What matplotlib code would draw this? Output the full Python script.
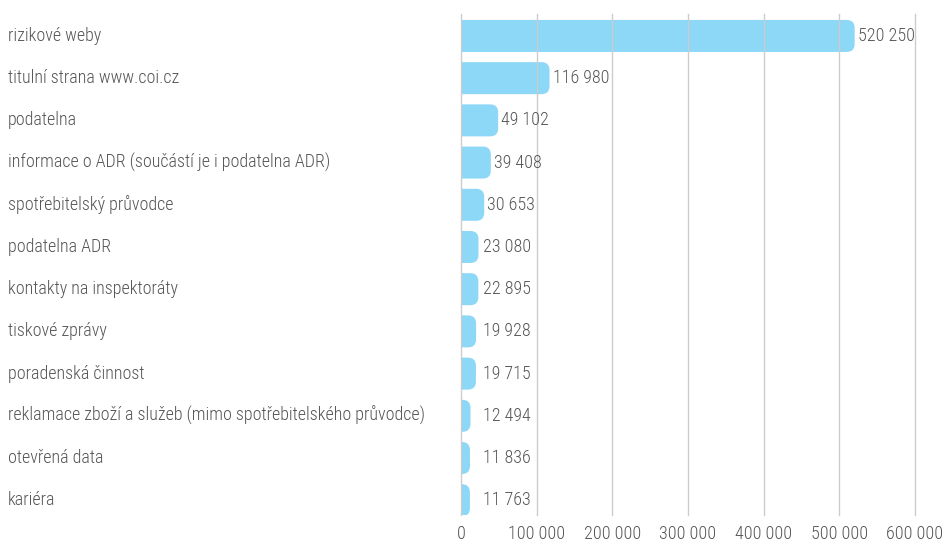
import matplotlib.pyplot as plt
import matplotlib.transforms as mtransforms
from matplotlib.patches import FancyBboxPatch
from matplotlib import font_manager

categories = [
    "rizikové weby",
    "titulní strana www.coi.cz",
    "podatelna",
    "informace o ADR (součástí je i podatelna ADR)",
    "spotřebitelský průvodce",
    "podatelna ADR",
    "kontakty na inspektoráty",
    "tiskové zprávy",
    "poradenská činnost",
    "reklamace zboží a služeb (mimo spotřebitelského průvodce)",
    "otevřená data",
    "kariéra",
]
values = [520250, 116980, 49102, 39408, 30653, 23080, 22895, 19928, 19715, 12494, 11836, 11763]
xticks = [0, 100000, 200000, 300000, 400000, 500000, 600000]

names = {f.name for f in font_manager.fontManager.ttflist}
fam = [f for f in ["Roboto Condensed", "Liberation Sans Narrow", "DejaVu Sans"] if f in names]
plt.rcParams["font.family"] = fam
plt.rcParams["font.stretch"] = "condensed"
plt.rcParams["font.weight"] = "light"

text_col = "#555555"
bar_col = "#8dd7f7"
fs = 13

fig = plt.figure(figsize=(9.44, 5.41), dpi=100)
ax = fig.add_axes([461 / 944, 1 - 515 / 541, (915 - 461) / 944, (515 - 14) / 541])
ax.set_xlim(0, 600000)
ax.set_ylim(len(categories) - 0.65, -0.52)

# rounded right ends: convert pixel radius into data units
ax_w = (915 - 461)
ax_h = (515 - 14)
x_per_px = 600000 / ax_w
y_per_px = (len(categories) - 0.65 + 0.52) / ax_h
r_px = 8
r = r_px * x_per_px
aspect = y_per_px / x_per_px
bh = 32 * y_per_px

for i, v in enumerate(values):
    p = FancyBboxPatch((-r, i - bh / 2), v + r, bh,
                       boxstyle="round,pad=0,rounding_size=%f" % r,
                       mutation_aspect=aspect, fc=bar_col, ec="none", zorder=1)
    ax.add_patch(p)
    lx = max(v + 3 * x_per_px, 29000)
    ax.text(lx, i, f"{v:,}".replace(",", " "), va="center", ha="left",
            fontsize=fs, color=text_col, zorder=3)

trans = mtransforms.blended_transform_factory(fig.transFigure, ax.transData)
for i, c in enumerate(categories):
    ax.text(8 / 944, i, c, transform=trans, va="center", ha="left",
            fontsize=fs, color=text_col)

ax.set_xticks(xticks)
ax.set_xticklabels([f"{t:,}".replace(",", " ") for t in xticks], fontsize=fs, color=text_col)
ax.set_yticks([])
ax.tick_params(axis="x", length=0, pad=7)
ax.grid(axis="x", color="#cccccc", linewidth=1, zorder=2)
for gl in ax.get_xgridlines():
    gl.set_clip_on(False)
ax.set_axisbelow(False)
for s in ax.spines.values():
    s.set_visible(False)

fig.savefig("out.png", dpi=100)
